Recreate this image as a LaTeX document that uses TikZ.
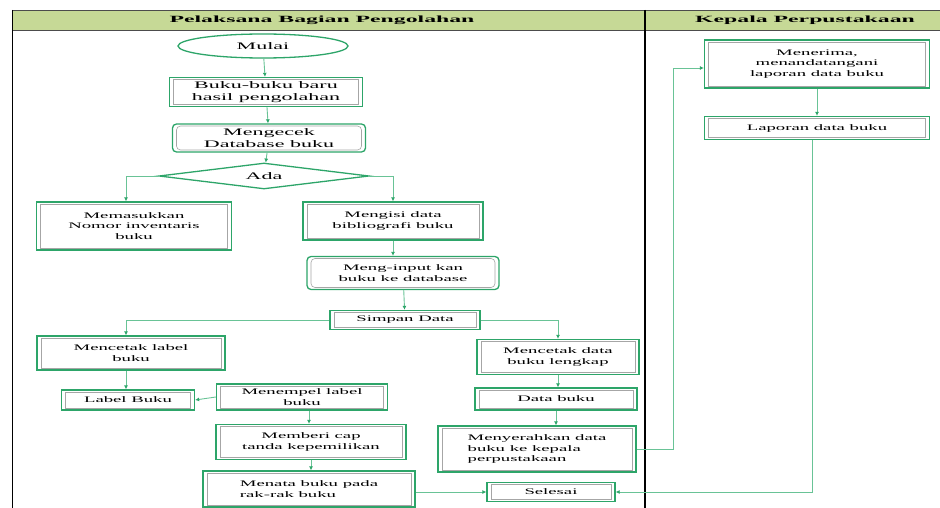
\documentclass[tikz,border=0pt]{standalone}
\usepackage{fontspec}
\setmainfont{Liberation Serif}
\newfontfamily\wfont{Liberation Serif}[FakeStretch=2.2]
\newfontfamily\hfont{Liberation Serif}[FakeStretch=2.5]
\usetikzlibrary{shapes.geometric,arrows.meta}
\definecolor{gbox}{RGB}{45,165,105}
\definecolor{gline}{RGB}{105,195,150}
\definecolor{hdr}{RGB}{198,217,150}
\tikzset{
  base/.style={draw=gbox, line width=1.3pt, fill=white, align=center, inner sep=1pt, font=\wfont\fontsize{8.5}{10.5}\selectfont},
  proc/.style={base, path picture={\draw[gray!70, line width=0.6pt]
      ([xshift=4pt,yshift=-2pt]path picture bounding box.north west) rectangle
      ([xshift=-4pt,yshift=2pt]path picture bounding box.south east);}},
  rproc/.style={proc, rounded corners=4pt},
  big/.style={font=\wfont\fontsize{10}{12}\selectfont},
  conn/.style={draw=gline, line width=0.9pt, -{Latex[length=4pt,width=4pt,color=gbox]}},
  hdrtext/.style={font=\hfont\bfseries\fontsize{9.5}{12}\selectfont}
}
\begin{document}
\begin{tikzpicture}[x=1pt,y=-1pt]
\useasboundingbox (0,0) rectangle (940,508);
% lanes
\fill[hdr] (12,10) rectangle (940,30);
\draw[gray!60!black, line width=0.8pt] (12,10) -- (940,10);
\draw[gray!60!black, line width=0.8pt] (12,30) -- (940,30);
\draw[black, line width=1pt] (12,10) -- (12,508);
\draw[black, line width=2pt] (645,10) -- (645,508);
\node[hdrtext] (h1) at (322,20) {Pelaksana Bagian Pengolahan};
\node[hdrtext] (h2) at (805,20) {Kepala Perpustakaan};
% nodes
\node[base, ellipse, big, minimum width=170pt, minimum height=24pt] (mulai) at (263,46) {Mulai};
\node[proc, big, minimum width=193pt, minimum height=29pt] (baru) at (266,92) {Buku-buku baru\\hasil pengolahan};
\node[rproc, big, minimum width=193pt, minimum height=28pt] (cek) at (269,138) {Mengecek\\Database buku};
\node[base, diamond, aspect=8, inner sep=0pt, minimum width=210pt, minimum height=26pt, big] (ada) at (264,176) {Ada};
\node[proc, minimum width=195pt, minimum height=48pt] (masuk) at (134,226) {Memasukkan\\Nomor inventaris\\buku};
\node[proc, minimum width=180pt, minimum height=38pt] (isi) at (393,221) {Mengisi data\\bibliografi buku};
\node[rproc, minimum width=192pt, minimum height=33pt] (input) at (403,273) {Meng-input kan\\buku ke database};
\node[proc, minimum width=150pt, minimum height=19pt] (simpan) at (405,320) {Simpan Data};
\node[proc, minimum width=188pt, minimum height=34pt] (clabel) at (131,353) {Mencetak label\\buku};
\node[proc, minimum width=133pt, minimum height=20pt] (label) at (128,400) {Label Buku};
\node[proc, minimum width=171pt, minimum height=26pt] (tempel) at (302,397) {Menempel label\\buku};
\node[proc, minimum width=190pt, minimum height=35pt] (cap) at (311,442) {Memberi cap\\tanda kepemilikan};
\node[proc, minimum width=212pt, minimum height=36pt, align=left] (tata) at (309,489) {Menata buku pada\\rak-rak buku};
\node[proc, minimum width=162pt, minimum height=35pt] (cdata) at (558,357) {Mencetak data\\buku lengkap};
\node[proc, minimum width=162pt, minimum height=22pt] (dbuku) at (556,399) {Data buku};
\node[proc, minimum width=198pt, minimum height=46pt, align=left] (serah) at (537,449) {Menyerahkan data\\buku ke kepala\\perpustakaan};
\node[proc, minimum width=128pt, minimum height=19pt] (selesai) at (551,492) {Selesai};
\node[proc, minimum width=225pt, minimum height=48pt] (terima) at (817,64) {Menerima,\\menandatangani\\laporan data buku};
\node[proc, minimum width=225pt, minimum height=23pt] (lapor) at (817,128) {Laporan data buku};
% connectors
\coordinate (r1) at (673,449);
\coordinate (r2) at (673,68);
\coordinate (l1) at (812,492);
\draw[conn] (mulai) -- (baru);
\draw[conn] (baru) -- (cek);
\draw[conn] (cek) -- (ada);
\draw[conn] (ada.west) -| ([xshift=-8pt]masuk.north);
\draw[conn] (ada.east) -| (isi.north);
\draw[conn] (isi.south) -- (isi.south |- input.north);
\draw[conn] (input) -- (simpan);
\draw[conn] (simpan.west) -| ([xshift=-5pt]clabel.north);
\draw[conn] (simpan.east) -| (cdata.north);
\draw[conn] ([xshift=-5pt]clabel.south) -- ([xshift=-5pt]clabel.south |- label.north);
\draw[conn] (tempel.west) -- (label.east);
\draw[conn] ([xshift=7pt]tempel.south) -- ([xshift=7pt]tempel.south |- cap.north);
\draw[conn] (cap) -- (cap.south |- tata.north);
\draw[conn] (cdata) -- (cdata.south |- dbuku.north);
\draw[conn] (dbuku) -- (dbuku.south |- serah.north);
\draw[conn] (selesai.west -| tata.east) -- (selesai.west);
\draw[conn] (serah.east) -- (r1) -- (r2) -- (terima.west |- r2);
\draw[conn] (terima) -- (lapor);
\draw[conn] (lapor.south -| l1) -- (l1) -- (selesai.east |- l1);
\end{tikzpicture}
\end{document}
